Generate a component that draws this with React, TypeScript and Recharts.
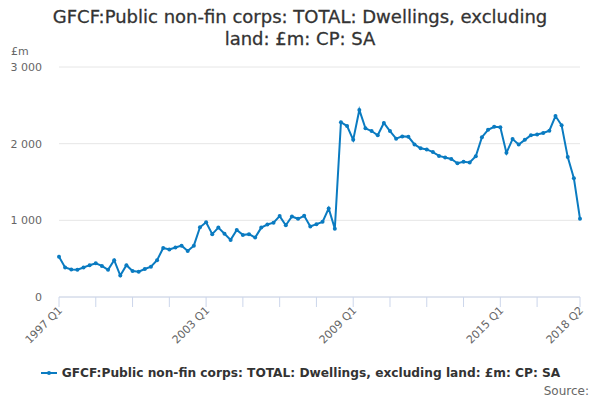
import { LineChart, Line, XAxis, YAxis, CartesianGrid } from 'recharts'

const years = [
  1997, 1998, 1999, 2000, 2001, 2002, 2003, 2004, 2005, 2006, 2007,
  2008, 2009, 2010, 2011, 2012, 2013, 2014, 2015, 2016, 2017, 2018,
]

// quarter labels 1997 Q1 .. 2018 Q2
const quarters: string[] = years
  .flatMap((y) => [1, 2, 3, 4].map((q) => `${y} Q${q}`))
  .slice(0, 86)

const dwellings = [
  525, 385, 360, 355, 385, 415, 440, 405, 355, 480, 280, 415, 340, 330, 365, 395,
  480, 640, 620, 645, 670, 600, 670, 910, 975, 820, 905, 825, 745, 875, 810, 820,
  775, 905, 945, 970, 1055, 935, 1050, 1020, 1060, 920, 950, 980, 1155, 890, 2280,
  2230, 2050, 2440, 2200, 2165, 2110, 2270, 2165, 2065, 2095, 2090, 1990, 1940,
  1925, 1890, 1840, 1820, 1800, 1745, 1765, 1755, 1835, 2085, 2180, 2220, 2215,
  1880, 2060, 1990, 2050, 2110, 2120, 2140, 2170, 2360, 2240, 1825, 1550, 1020,
]

const xTicks = [
  '1997 Q1', '1998 Q3', '2000 Q1', '2001 Q3', '2003 Q1', '2004 Q3', '2006 Q1',
  '2007 Q3', '2009 Q1', '2010 Q3', '2012 Q1', '2013 Q3', '2015 Q1', '2016 Q3',
  '2018 Q2',
]
const xLabels = ['1997 Q1', '2003 Q1', '2009 Q1', '2015 Q1', '2018 Q2']
const yTicks = [0, 1000, 2000, 3000]

const seriesName = 'GFCF:Public non-fin corps: TOTAL: Dwellings, excluding land: £m: CP: SA'
const lineColor = '#0a7bc1'
const font = '"DejaVu Sans", sans-serif'

const data = quarters.map((q, i) => ({ quarter: q, value: dwellings[i] }))

function XTick({ x, y, payload }: { x?: number; y?: number; payload?: { value: string } }) {
  if (!payload || !xLabels.includes(payload.value)) return null
  return (
    <g transform={`translate(${(x ?? 0) + 4},${(y ?? 0) + 4})`}>
      <text transform="rotate(-45)" textAnchor="end" fill="#666" fontSize={11} fontFamily={font}>
        {payload.value}
      </text>
    </g>
  )
}

function fmt(v: number) {
  return v >= 1000 ? `${Math.floor(v / 1000)} ${String(v % 1000).padStart(3, '0')}` : `${v}`
}

export default function App() {
  return (
    <div style={{ position: 'absolute', left: 0, top: 0, width: 600, height: 400, fontFamily: font, background: '#fff' }}>
      <div
        style={{
          position: 'absolute', left: 0, top: 6, width: 600, textAlign: 'center',
          fontSize: 18, fontWeight: 400, color: '#333', lineHeight: '22px',
          WebkitTextStroke: '0.3px #333',
        }}
      >
        GFCF:Public non-fin corps: TOTAL: Dwellings, excluding
        <br />
        land: £m: CP: SA
      </div>
      <div style={{ position: 'absolute', left: 11, top: 45, fontSize: 11, color: '#666' }}>£m</div>
      <LineChart width={600} height={400} data={data} margin={{ top: 67, right: 20, bottom: 43, left: 9 }}>
        <CartesianGrid vertical={false} stroke="#e6e6e6" />
        <XAxis
          dataKey="quarter"
          ticks={xTicks}
          interval={0}
          height={60}
          tick={<XTick />}
          tickSize={10}
          tickMargin={0}
          stroke="#ccd6eb"
          tickLine={{ stroke: '#ccd6eb' }}
        />
        <YAxis
          domain={[0, 3000]}
          ticks={yTicks}
          width={50}
          axisLine={false}
          tickLine={false}
          tickSize={0}
          tickMargin={17}
          tickFormatter={fmt}
          tick={{ fill: '#666', fontSize: 11, fontFamily: font }}
        />
        <Line
          type="linear"
          dataKey="value"
          name={seriesName}
          stroke={lineColor}
          strokeWidth={2}
          dot={{ r: 2, fill: lineColor, stroke: lineColor, strokeWidth: 0 }}
          isAnimationActive={false}
        />
      </LineChart>
      <div
        style={{
          position: 'absolute', left: 0, top: 366, width: 600, display: 'flex',
          justifyContent: 'center', alignItems: 'center', fontSize: 12.2, fontWeight: 700, color: '#333',
        }}
      >
        <svg width={18} height={10} style={{ marginRight: 4 }}>
          <line x1={1} y1={5} x2={17} y2={5} stroke={lineColor} strokeWidth={2} />
          <circle cx={9} cy={5} r={2} fill={lineColor} />
        </svg>
        {seriesName}
      </div>
      <div style={{ position: 'absolute', right: 11, top: 384, fontSize: 12, color: '#666' }}>Source:</div>
    </div>
  )
}
